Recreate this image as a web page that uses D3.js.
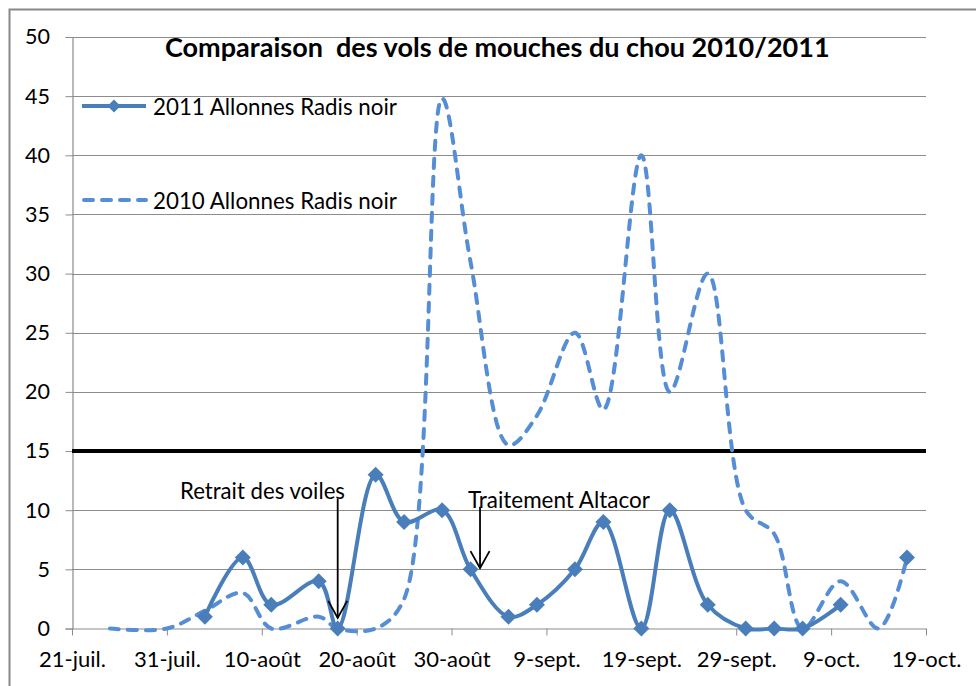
<!DOCTYPE html>
<html lang="fr"><head>
<meta charset="utf-8">
<script src="https://cdnjs.cloudflare.com/ajax/libs/d3/7.8.5/d3.min.js"></script>
<style>
  body { margin: 0; background: #fff; }
  text { font-family: Lato, "Open Sans", sans-serif; fill: #000; }
</style>
<title>Comparaison des vols de mouches du chou 2010/2011</title>
</head>
<body>
<div id="chart"></div>
<script>
// ---- data ----
const dates = ["2011-07-25","2011-07-31","2011-08-04","2011-08-08","2011-08-11","2011-08-16",
  "2011-08-18","2011-08-22","2011-08-25","2011-08-29","2011-09-01","2011-09-05","2011-09-08",
  "2011-09-12","2011-09-15","2011-09-19","2011-09-22","2011-09-26","2011-09-30","2011-10-03",
  "2011-10-06","2011-10-10","2011-10-14","2011-10-17"];
const vols2011 = [null,null,1,6,2,4,0,13,9,10,5,1,2,5,9,0,10,2,0,0,0,2,null,6];
const vols2010 = [0,0,1.5,3,0,1,0,0,2.5,44.8,31,15.5,18,25,18.5,40,20,30,10,8,0,4,0,6];
const seriesNames = ["2011 Allonnes Radis noir", "2010 Allonnes Radis noir"];

const tickDates = ["2011-07-21","2011-07-31","2011-08-10","2011-08-20","2011-08-30",
  "2011-09-09","2011-09-19","2011-09-29","2011-10-09","2011-10-19"];
const tickLabels = ["21-juil.","31-juil.","10-août","20-août","30-août",
  "9-sept.","19-sept.","29-sept.","9-oct.","19-oct."];
const yTicks = [0,5,10,15,20,25,30,35,40,45,50];

const seuil = 15;
const notes = [
  {label: "Retrait des voiles", date: "2011-08-18", from: 11, to: 0.9},
  {label: "Traitement Altacor", date: "2011-09-02", from: 10.3, to: 5.1}
];

// ---- setup ----
const width = 976, height = 686;
const parse = d3.timeParse("%Y-%m-%d");
const blue = "#4a7ebb", blue2 = "#558ed5", grid = "#8c8c8c";

const svg = d3.select("#chart").append("svg")
  .attr("width", width).attr("height", height);

// scale a text's font so it spans the given width (Calibri is not available)
function fit(sel, w) {
  const base = 20;
  sel.attr("font-size", base);
  const got = sel.node().getComputedTextLength();
  sel.attr("font-size", base * w / got);
  return sel;
}

// outer frame (right/bottom edges are cut off in the picture)
svg.append("rect")
  .attr("x", 9.5).attr("y", 9.5).attr("width", 1200).attr("height", 1200)
  .attr("fill", "none").attr("stroke", "#888").attr("stroke-width", 2);

const x = d3.scaleTime()
  .domain([parse(tickDates[0]), parse(tickDates[tickDates.length - 1])])
  .range([72, 926]);
const y = d3.scaleLinear().domain([0, 50]).range([628.5, 37]);

// gridlines
svg.append("g").selectAll("line").data(yTicks.slice(1)).join("line")
  .attr("x1", 72).attr("x2", 926)
  .attr("y1", d => Math.round(y(d)) + 0.5).attr("y2", d => Math.round(y(d)) + 0.5)
  .attr("stroke", grid).attr("stroke-width", 1.2);

// Y axis
const yAxis = svg.append("g").attr("transform", "translate(72.5,0)")
  .call(d3.axisLeft(y).tickValues(yTicks).tickSize(7).tickPadding(15.5));
yAxis.select(".domain").attr("stroke", grid).attr("stroke-width", 1.2);
yAxis.selectAll(".tick line").attr("stroke", grid);
yAxis.selectAll("text").attr("font-size", 21.5).attr("font-family", "Lato, sans-serif").attr("fill", "#000");

// X axis
const xAxis = svg.append("g").attr("transform", `translate(0,${y(0)})`)
  .call(d3.axisBottom(x).tickValues(tickDates.map(parse))
    .tickFormat((d, i) => tickLabels[i]).tickSize(7).tickPadding(16).tickSizeOuter(0));
xAxis.select(".domain").attr("stroke", grid).attr("stroke-width", 1.2);
xAxis.selectAll(".tick line").attr("stroke", grid);
xAxis.selectAll("text").attr("font-size", 22).attr("font-family", "Lato, sans-serif").attr("fill", "#000");

// seuil line
svg.append("line")
  .attr("x1", x(parse(tickDates[0]))).attr("x2", x(parse(tickDates[tickDates.length - 1])))
  .attr("y1", y(seuil)).attr("y2", y(seuil))
  .attr("stroke", "#000").attr("stroke-width", 4);

// ---- series ----
const pts2010 = dates.map((d, i) => ({date: parse(d), v: vols2010[i]}));
const pts2011 = dates.map((d, i) => ({date: parse(d), v: vols2011[i]}));

const line = d3.line()
  .defined(d => d.v !== null)
  .x(d => x(d.date)).y(d => y(d.v))
  .curve(d3.curveCatmullRom.alpha(0.5));

svg.append("path").datum(pts2010)
  .attr("d", line).attr("fill", "none")
  .attr("stroke", blue2).attr("stroke-width", 4)
  .attr("stroke-dasharray", "9,9").attr("stroke-linecap", "round");

svg.append("path").datum(pts2011)
  .attr("d", line).attr("fill", "none")
  .attr("stroke", blue).attr("stroke-width", 4).attr("stroke-linejoin", "round");

const diamond = r => `M0,${-r}L${r},0L0,${r}L${-r},0Z`;
svg.append("g").selectAll("path").data(pts2011.filter(d => d.v !== null)).join("path")
  .attr("transform", d => `translate(${x(d.date)},${y(d.v)})`)
  .attr("d", diamond(8)).attr("fill", blue);

// ---- title ----
const title = svg.append("text")
  .attr("x", 165).attr("y", 57)
  .attr("font-weight", "bold")
  .style("white-space", "pre")
  .text("Comparaison  des vols de mouches du chou 2010/2011");
fit(title, 665);

// ---- legend ----
const leg = svg.append("g");
leg.append("line").attr("x1", 82).attr("x2", 146).attr("y1", 106).attr("y2", 106)
  .attr("stroke", blue).attr("stroke-width", 4);
leg.append("path").attr("transform", "translate(114,106)").attr("d", diamond(6.5)).attr("fill", blue);
leg.append("line").attr("x1", 84).attr("x2", 146).attr("y1", 200).attr("y2", 200)
  .attr("stroke", blue2).attr("stroke-width", 4)
  .attr("stroke-dasharray", "9,9").attr("stroke-linecap", "round");
leg.selectAll("text").data(seriesNames).join("text")
  .attr("x", 153).attr("y", (d, i) => i ? 201 : 107).attr("dy", "0.35em")
  .text(d => d)
  .each(function() { fit(d3.select(this), 244); });

// ---- annotations ----
notes.forEach((n, i) => {
  const ax = x(parse(n.date)), y1 = y(n.from), y2 = y(n.to);
  svg.append("line").attr("x1", ax).attr("x2", ax).attr("y1", y1).attr("y2", y2)
    .attr("stroke", "#000").attr("stroke-width", 1.8);
  svg.append("path")
    .attr("d", `M${ax - 9.5},${y2 - 17}L${ax},${y2}L${ax + 9.5},${y2 - 17}`)
    .attr("fill", "none").attr("stroke", "#000").attr("stroke-width", 1.8);
});
fit(svg.append("text").attr("x", 180).attr("y", 491).attr("dy", "0.35em")
  .text(notes[0].label), 165);
fit(svg.append("text").attr("x", 468).attr("y", 500).attr("dy", "0.35em")
  .text(notes[1].label), 182);
</script>
</body>
</html>
